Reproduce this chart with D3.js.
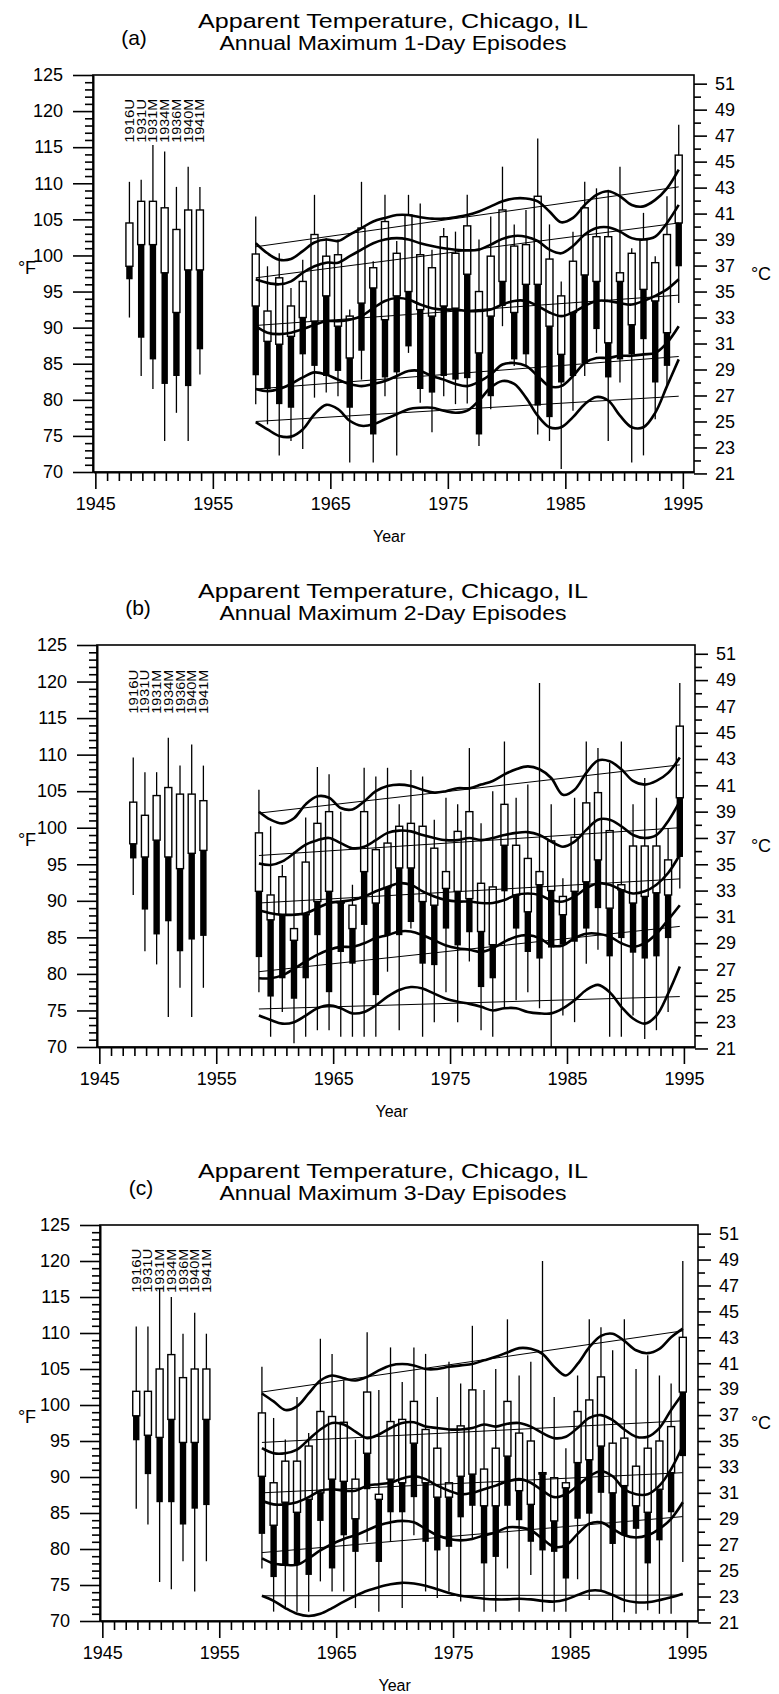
<!DOCTYPE html>
<html>
<head>
<meta charset="utf-8">
<script src="https://cdn.jsdelivr.net/npm/d3@7/dist/d3.min.js"></script>
<style>
body { margin: 0; background: #fff; }
svg text { font-family: "Liberation Sans", Arial, Helvetica, sans-serif; fill: #000; }
</style>
</head>
<body>
<div id="chart"></div>
<script>
// Years with annual box plots
var years = [1959,1960,1961,1962,1963,1964,1965,1966,1967,1968,1969,1970,1971,1972,1973,1974,1975,1976,1977,
             1978,1979,1980,1981,1982,1983,1984,1985,1986,1987,1988,1989,1990,1991,1992,1993,1994,1995];

// Historic heat waves shown on the left
var histLabels = ["1916U", "1931U", "1931M", "1934M", "1936M", "1940M", "1941M"];
var histSlots = [1948, 1949, 1950, 1951, 1952, 1953, 1954];

// Tick labels
var fTicks = [70, 75, 80, 85, 90, 95, 100, 105, 110, 115, 120, 125];
var cTicks = [21, 23, 25, 27, 29, 31, 33, 35, 37, 39, 41, 43, 45, 47, 49, 51];
var yearTicks = [1945, 1955, 1965, 1975, 1985, 1995];

// Each box: [whisker low, box low, middle, box high, whisker high] in deg F
var oneDayBoxes = [
  [79.4,83.4,93.0,100.2,105.4],[76.6,81.5,88.1,92.3,98.5],[72.3,79.4,87.7,96.9,100.3],[74.3,78.9,88.8,93.0,95.5],
  [73.2,86.3,91.4,96.4,99.4],[80.3,84.7,90.9,102.9,108.4],[81.0,83.3,94.4,99.9,102.4],[80.5,84.0,90.2,100.1,102.2],
  [71.3,78.9,85.8,91.6,92.5],[82.8,86.8,93.4,103.8,110.2],[71.3,75.2,95.5,98.3,99.2],[80.5,83.1,91.1,104.7,108.4],
  [72.3,83.8,94.4,100.3,102.0],[86.5,87.4,95.0,105.6,108.4],[79.6,81.5,92.5,100.1,107.2],[75.5,81.0,91.6,98.3,100.8],
  [80.5,83.3,93.0,102.6,103.8],[79.4,82.8,92.7,100.3,103.3],[79.5,83.0,97.4,104.1,108.4],[73.6,75.2,86.5,95.0,102.2],
  [78.7,80.5,91.6,99.9,105.4],[90.2,93.0,96.4,106.3,112.3],[84.7,85.6,92.1,101.3,104.3],[84.7,86.3,96.0,101.5,106.3],
  [75.2,79.2,96.0,108.2,116.2],[74.3,77.6,90.2,99.5,104.3],[70.4,82.4,86.3,94.4,96.4],[78.5,83.3,92.1,99.2,103.3],
  [83.3,85.1,97.3,106.6,110.2],[86.5,89.8,96.4,102.6,109.3],[74.3,83.1,87.9,102.6,109.1],[82.4,85.6,96.4,97.6,112.3],
  [71.3,86.3,90.4,100.3,101.0],[72.3,88.4,95.3,102.2,105.9],[77.3,82.4,93.7,99.0,99.9],[81.9,84.7,89.3,102.9,108.2],
  [93.4,98.5,104.5,113.9,118.1]
];
var twoDayBoxes = [
  [77.5,82.3,91.3,99.3,105.2],[71.4,76.9,87.4,90.8,100.2],[74.8,79.4,88.1,93.3,94.9],[70.5,76.6,84.6,86.2,96.7],
  [71.4,79.4,88.1,95.3,101.4],[72.3,85.3,89.9,100.6,108.3],[72.3,77.5,91.3,102.2,107.3],[71.4,83.0,89.7,89.9,102.2],
  [71.4,81.4,86.2,89.4,92.2],[71.4,86.7,94.0,102.2,108.2],[71.4,77.1,89.7,97.0,107.0],[80.3,85.3,91.8,97.9,108.2],
  [72.3,85.3,94.5,100.2,103.2],[86.2,87.1,94.5,100.6,107.9],[71.4,81.4,89.9,100.2,107.0],[73.4,81.2,89.4,97.2,101.1],
  [77.5,86.2,91.7,94.0,104.1],[73.4,83.9,91.3,99.5,103.2],[81.7,85.7,90.3,102.2,110.9],[72.3,78.2,85.8,92.4,100.6],
  [71.4,79.4,84.0,91.9,105.0],[75.3,91.3,97.6,103.2,111.8],[76.4,86.2,90.8,97.6,104.1],[77.5,83.0,88.5,95.8,105.9],
  [75.3,82.1,92.2,94.0,119.8],[70.0,83.6,91.4,98.2,103.2],[74.3,84.0,88.1,90.6,93.1],[73.4,84.4,91.3,98.7,104.1],
  [81.4,86.2,92.6,103.4,111.8],[83.3,89.0,95.6,104.8,110.9],[71.4,82.4,89.0,99.6,108.9],[71.4,84.9,91.5,92.2,111.8],
  [74.3,82.9,89.7,97.5,103.2],[71.1,82.1,90.6,97.5,106.8],[72.3,82.4,91.1,97.5,104.1],[74.8,84.9,90.8,95.6,99.9],
  [91.7,96.0,104.1,113.9,119.8]
];
var threeDayBoxes = [
  [77.3,82.1,90.1,98.9,105.3],[71.3,76.1,83.3,89.2,98.2],[71.8,77.8,86.5,92.2,95.2],[71.3,77.8,85.1,92.2,101.1],
  [71.3,76.4,86.9,94.3,96.1],[75.5,83.9,87.8,99.1,109.2],[74.1,77.3,89.7,98.4,107.1],[74.1,81.9,89.4,97.6,103.4],
  [71.8,79.6,84.2,89.7,95.2],[81.0,88.3,93.3,101.8,110.1],[71.3,78.2,86.9,87.6,102.1],[81.0,85.1,89.7,97.7,108.0],
  [71.8,85.1,89.2,98.0,103.2],[81.9,87.2,94.7,100.5,108.0],[74.1,81.0,89.2,96.6,107.1],[73.2,79.8,87.2,94.0,101.1],
  [74.1,80.3,87.2,89.2,106.0],[72.7,84.4,90.1,97.1,103.0],[81.4,86.0,90.4,102.1,111.0],[71.3,78.0,86.0,91.1,102.1],
  [71.3,78.9,86.0,94.0,105.0],[77.3,86.0,92.9,100.5,111.9],[71.3,84.0,88.1,96.1,104.1],[76.4,81.0,86.2,95.0,106.0],
  [71.3,79.8,90.4,90.6,120.0],[71.3,79.6,83.9,89.9,101.1],[71.3,75.9,88.5,89.2,94.0],[75.8,84.2,92.0,99.1,104.1],
  [72.9,84.9,92.4,100.7,111.9],[74.1,87.8,94.3,103.9,110.8],[70.0,80.7,87.8,94.7,107.6],[71.2,81.9,88.8,95.4,111.9],
  [71.0,82.8,86.0,91.5,105.0],[71.5,78.0,85.1,94.0,106.9],[71.0,81.2,88.3,95.0,104.1],[71.0,85.1,90.6,97.0,103.0],
  [78.2,92.9,101.8,109.4,120.0]
];

var oneDayHist = [
  [91.4,96.7,98.5,104.5,110.2],[83.3,88.6,101.5,107.5,110.5],[81.5,85.6,101.5,107.5,115.3],[74.3,82.2,97.6,106.6,114.4],
  [78.2,83.3,92.1,103.6,109.5],[74.3,81.9,98.0,106.3,112.3],[83.5,87.0,98.0,106.3,109.5]
];
var twoDayHist = [
  [90.8,95.8,97.8,103.5,109.6],[83.1,88.8,96.0,101.7,107.6],[81.3,85.4,98.3,104.4,107.6],[74.1,87.2,96.0,105.5,112.3],
  [78.1,83.1,94.4,104.6,108.5],[74.1,84.7,96.5,104.6,111.4],[78.1,85.2,96.9,103.7,108.5]
];
var threeDayHist = [
  [85.6,95.1,98.5,101.9,110.9],[83.4,90.4,95.8,101.9,110.9],[75.4,86.5,95.5,105.0,116.2],[74.4,86.5,98.0,107.0,115.0],
  [78.3,83.4,94.8,103.8,109.9],[74.1,85.6,94.8,105.0,112.8],[78.3,86.1,98.0,105.0,109.9]
];

// Smoothed quantile curves (5 per panel), one value per year
var oneDayCurves = [
  [101.7,100.3,99.4,99.5,100.6,101.8,102.2,102.0,102.9,103.8,104.7,105.2,105.6,105.6,105.3,105.1,105.1,105.3,105.6,106.1,106.8,107.5,107.9,107.9,107.5,106.1,104.6,105.2,107.0,108.4,108.9,108.2,107.0,106.8,107.7,109.3,111.9],
  [96.7,96.2,96.0,96.4,97.6,98.5,99.0,99.0,99.9,100.8,101.7,102.2,102.4,102.2,101.7,101.3,101.0,100.8,100.7,100.8,101.5,102.3,102.7,102.6,102.0,100.8,100.3,101.3,102.9,103.8,103.9,103.3,102.4,102.2,102.6,104.5,107.0],
  [90.2,89.3,89.1,89.3,89.8,90.4,90.9,90.9,91.1,91.6,92.7,93.7,94.1,93.9,93.2,92.7,92.5,92.5,92.3,92.3,92.5,93.2,93.7,93.7,93.0,92.1,91.6,92.1,93.0,93.7,93.7,93.4,93.2,93.7,94.4,95.3,96.7],
  [81.5,81.2,81.5,82.2,83.1,83.8,83.5,82.8,82.2,81.9,82.2,82.6,83.3,84.0,84.0,83.3,82.8,82.2,81.9,82.5,83.5,84.9,85.1,84.7,83.3,81.9,81.9,83.3,85.1,85.8,85.8,86.1,86.1,86.3,86.5,87.9,90.2],
  [76.9,75.9,75.0,74.9,75.9,78.0,79.3,78.7,77.1,76.4,76.6,77.3,78.0,78.7,78.9,78.9,78.5,78.2,78.5,79.9,81.7,82.6,82.2,80.3,77.8,76.2,76.2,77.6,79.4,80.4,79.9,77.8,76.2,76.2,78.2,81.9,85.6]
];
var twoDayCurves = [
  [102.2,101.1,100.6,101.3,103.2,104.3,104.1,102.7,102.5,103.6,105.0,105.7,105.9,105.7,105.2,104.8,105.0,105.4,105.4,105.9,106.4,107.3,108.0,108.4,108.0,106.8,104.5,105.2,107.5,109.2,109.1,108.0,106.4,105.9,106.4,107.5,109.6],
  [95.1,94.9,95.4,96.5,97.7,98.3,98.6,97.9,97.2,97.4,98.3,99.3,99.6,99.5,99.0,98.6,98.3,98.3,98.6,98.3,98.6,99.0,99.3,99.4,99.0,98.1,97.4,98.1,99.7,101.1,101.1,100.2,99.0,98.6,99.0,100.9,103.6],
  [88.7,88.3,88.1,88.1,88.3,89.0,89.7,89.9,90.1,90.6,91.3,91.9,92.4,92.2,91.3,90.6,90.1,89.9,89.9,89.7,89.7,90.1,90.8,91.0,90.8,90.1,89.9,90.6,91.7,92.4,92.2,91.5,91.0,91.3,92.2,93.8,96.3],
  [79.4,79.4,79.8,80.7,81.7,82.6,83.3,83.7,83.7,84.2,84.9,85.3,85.8,85.8,85.3,84.6,83.9,83.5,83.3,83.0,83.5,84.4,85.1,85.3,84.9,83.9,83.9,84.9,85.5,85.5,85.1,84.2,83.7,84.2,85.5,87.4,89.4],
  [74.3,73.7,73.2,73.4,74.3,75.3,75.7,75.3,74.6,74.8,75.7,76.9,77.8,78.2,78.0,77.3,76.6,76.2,75.9,75.5,75.0,75.3,75.3,74.8,74.6,74.6,75.3,76.4,77.8,78.5,77.5,75.5,73.9,73.2,74.3,77.3,81.0]
];
var threeDayCurves = [
  [101.6,100.5,99.3,99.8,101.6,103.4,104.1,103.7,103.4,103.9,104.8,105.5,105.7,105.5,105.0,105.0,105.3,105.5,105.7,106.2,106.7,107.3,107.9,107.8,107.1,105.3,104.1,105.7,108.0,109.6,109.9,108.9,107.6,107.2,107.8,109.4,110.6],
  [94.0,93.3,93.3,93.8,95.2,96.6,97.5,97.3,96.3,95.4,95.9,96.8,97.5,97.6,97.0,96.8,96.6,96.6,96.8,97.3,97.0,97.4,97.5,97.0,96.1,95.4,95.6,96.8,98.2,98.6,97.9,96.6,95.6,95.6,96.8,99.3,101.6],
  [86.7,86.2,86.2,86.5,87.2,88.1,88.3,88.1,88.1,88.8,89.0,89.2,89.8,90.1,89.7,88.8,88.1,87.6,87.8,88.3,88.8,89.4,89.7,89.2,88.1,87.2,87.6,88.8,90.1,90.8,90.1,88.3,87.6,87.6,88.8,91.1,94.3],
  [78.7,78.0,77.8,77.8,78.7,79.8,80.7,81.4,81.9,82.6,83.3,83.7,83.9,83.7,82.8,81.9,81.4,81.2,81.4,81.9,82.3,83.0,83.0,82.6,81.4,80.3,80.5,82.1,83.5,83.7,82.8,81.9,81.6,81.9,82.8,84.2,86.5],
  [73.5,72.8,71.8,71.0,70.7,71.0,71.8,72.7,73.5,74.2,74.7,75.1,75.3,75.2,74.9,74.4,73.9,73.5,73.3,73.1,73.0,73.0,73.1,73.0,72.8,72.7,73.0,73.6,74.2,74.2,73.6,72.9,72.6,72.6,72.9,73.3,73.8]
];

// Linear trends: [value in 1959, value in 1995]
var oneDayTrends = [[101.2,109.5],[96.9,104.5],[90.3,94.5],[81.5,86.0],[77.0,80.5]];
var twoDayTrends = [[102.0,108.6],[96.2,100.0],[89.7,93.0],[80.3,86.5],[75.2,76.9]];
var threeDayTrends = [[101.8,110.3],[94.8,97.8],[87.8,90.6],[79.5,84.5],[73.5,73.6]];

var svgWidth = 779;
var svgHeight = 1694;

var svg = d3.select("#chart")
    .append("svg")
    .attr("width", svgWidth)
    .attr("height", svgHeight);

var panels = [
    {tag: "(a)", sub: "Annual Maximum 1-Day Episodes", left: 93, right: 694, top: 75, bottom: 472,
     boxes: oneDayBoxes, hist: oneDayHist, curves: oneDayCurves, trends: oneDayTrends},
    {tag: "(b)", sub: "Annual Maximum 2-Day Episodes", left: 97, right: 695, top: 645, bottom: 1047,
     boxes: twoDayBoxes, hist: twoDayHist, curves: twoDayCurves, trends: twoDayTrends},
    {tag: "(c)", sub: "Annual Maximum 3-Day Episodes", left: 100, right: 698, top: 1225, bottom: 1621,
     boxes: threeDayBoxes, hist: threeDayHist, curves: threeDayCurves, trends: threeDayTrends}
];

function toF(c) { return c * 9 / 5 + 32; }

panels.forEach(function(p, pi) {
    var g = svg.append("g");

    var x = d3.scaleLinear().domain([1944.8, 1995.95]).range([p.left, p.right]);
    var y = d3.scaleLinear().domain([70, 125]).range([p.bottom, p.top]);
    var yC = d3.scaleLinear().domain([21, 51]).range([y(toF(21)), y(toF(51))]);
    var boxX = function(yr) { return x(yr - 0.35); };
    var histX = function(yr) { return x(yr - 0.1); };

    //Titles
    var midX = 393;
    g.append("text")
        .attr("x", midX).attr("y", p.top - 47)
        .attr("text-anchor", "middle")
        .attr("font-size", 20)
        .attr("textLength", 390).attr("lengthAdjust", "spacingAndGlyphs")
        .text("Apparent Temperature, Chicago, IL");
    g.append("text")
        .attr("x", midX).attr("y", p.top - 25)
        .attr("text-anchor", "middle")
        .attr("font-size", 20)
        .attr("textLength", 347).attr("lengthAdjust", "spacingAndGlyphs")
        .text(p.sub);
    g.append("text")
        .attr("x", p.left + 41).attr("y", p.top - 30)
        .attr("text-anchor", "middle")
        .attr("font-size", 21)
        .text(p.tag);

    //Clip for marks
    svg.append("clipPath").attr("id", "clip" + pi)
        .append("rect")
        .attr("x", p.left).attr("y", p.top)
        .attr("width", p.right - p.left).attr("height", p.bottom - p.top);

    var marks = g.append("g").attr("clip-path", "url(#clip" + pi + ")");

    function drawBox(sel, d, cx) {
        sel.append("line")
            .attr("x1", cx).attr("x2", cx)
            .attr("y1", y(d[0])).attr("y2", y(d[4]))
            .attr("stroke", "#000").attr("stroke-width", 1.3);
        sel.append("rect")
            .attr("x", cx - 3.5).attr("width", 7)
            .attr("y", y(d[3])).attr("height", y(d[2]) - y(d[3]))
            .attr("fill", "#fff").attr("stroke", "#000").attr("stroke-width", 1.4);
        sel.append("rect")
            .attr("x", cx - 3.2).attr("width", 6.4)
            .attr("y", y(d[2])).attr("height", y(d[1]) - y(d[2]))
            .attr("fill", "#000");
    }

    //Historic episodes
    p.hist.forEach(function(d, i) {
        drawBox(marks, d, histX(histSlots[i]));
    });
    g.selectAll(null)
        .data(histLabels)
        .enter()
        .append("text")
        .attr("transform", function(d, i) {
            return "translate(" + (histX(histSlots[i]) + 4.5) + "," + y(115.6) + ") rotate(-90)";
        })
        .attr("font-size", 12.5)
        .attr("textLength", 44).attr("lengthAdjust", "spacingAndGlyphs")
        .text(function(d) { return d; });

    //Annual boxes
    p.boxes.forEach(function(d, i) {
        drawBox(marks, d, boxX(years[i]));
    });

    //Trend lines
    marks.selectAll(null)
        .data(p.trends)
        .enter()
        .append("line")
        .attr("x1", boxX(years[0])).attr("x2", boxX(years[years.length - 1]))
        .attr("y1", function(d) { return y(d[0]); })
        .attr("y2", function(d) { return y(d[1]); })
        .attr("stroke", "#000").attr("stroke-width", 1);

    //Smoothed curves
    var line = d3.line()
        .x(function(d, i) { return boxX(years[i]); })
        .y(function(d) { return y(d); })
        .curve(d3.curveCatmullRom.alpha(0.5));
    marks.selectAll(null)
        .data(p.curves)
        .enter()
        .append("path")
        .attr("d", line)
        .attr("fill", "none")
        .attr("stroke", "#000").attr("stroke-width", 2.6);

    //Frame
    g.append("rect")
        .attr("x", p.left).attr("y", p.top)
        .attr("width", p.right - p.left).attr("height", p.bottom - p.top)
        .attr("fill", "none").attr("stroke", "#000").attr("stroke-width", 1.6);

    //Left axis (deg F)
    var minorF = d3.range(70, 126).filter(function(v) { return v % 5 !== 0; });
    g.append("g").attr("transform", "translate(" + p.left + ",0)")
        .call(d3.axisLeft(y).tickValues(minorF).tickSize(8).tickFormat(""))
        .call(function(a) { a.select(".domain").remove(); });
    var leftAxis = g.append("g").attr("transform", "translate(" + p.left + ",0)")
        .call(d3.axisLeft(y).tickValues(fTicks).tickSize(20).tickPadding(10).tickSizeOuter(0));
    leftAxis.selectAll("text").attr("font-size", 18).attr("font-family", null);

    //Bottom axis (years)
    var minorYears = d3.range(1945, 1996).filter(function(v) { return v % 10 !== 5; });
    g.append("g").attr("transform", "translate(0," + p.bottom + ")")
        .call(d3.axisBottom(x).tickValues(minorYears).tickSize(9).tickFormat(""))
        .call(function(a) { a.select(".domain").remove(); });
    var bottomAxis = g.append("g").attr("transform", "translate(0," + p.bottom + ")")
        .call(d3.axisBottom(x).tickValues(yearTicks).tickSize(17).tickPadding(8).tickFormat(d3.format("d")).tickSizeOuter(0));
    bottomAxis.selectAll("text").attr("font-size", 18).attr("font-family", null);

    //Right axis (deg C)
    var minorC = d3.range(22, 51, 2);
    g.append("g").attr("transform", "translate(" + p.right + ",0)")
        .call(d3.axisRight(yC).tickValues(minorC).tickSize(7).tickFormat(""))
        .call(function(a) { a.select(".domain").remove(); });
    var rightAxis = g.append("g").attr("transform", "translate(" + p.right + ",0)")
        .call(d3.axisRight(yC).tickValues(cTicks).tickSize(13).tickPadding(8).tickSizeOuter(0));
    rightAxis.select(".domain").remove();
    rightAxis.selectAll("text").attr("font-size", 18).attr("font-family", null);

    g.selectAll(".domain").attr("stroke-width", 2);
    g.selectAll(".tick line").attr("stroke-width", 1.6);

    //Axis titles
    g.append("text")
        .attr("x", 27).attr("y", (p.top + p.bottom) / 2)
        .attr("text-anchor", "middle")
        .attr("font-size", 18)
        .text("\u00B0F");
    g.append("text")
        .attr("x", 761).attr("y", (p.top + p.bottom) / 2 + 6)
        .attr("text-anchor", "middle")
        .attr("font-size", 18)
        .text("\u00B0C");
    g.append("text")
        .attr("x", x(1970)).attr("y", p.bottom + 70)
        .attr("text-anchor", "middle")
        .attr("font-size", 16)
        .text("Year");
});
</script>
</body>
</html>
